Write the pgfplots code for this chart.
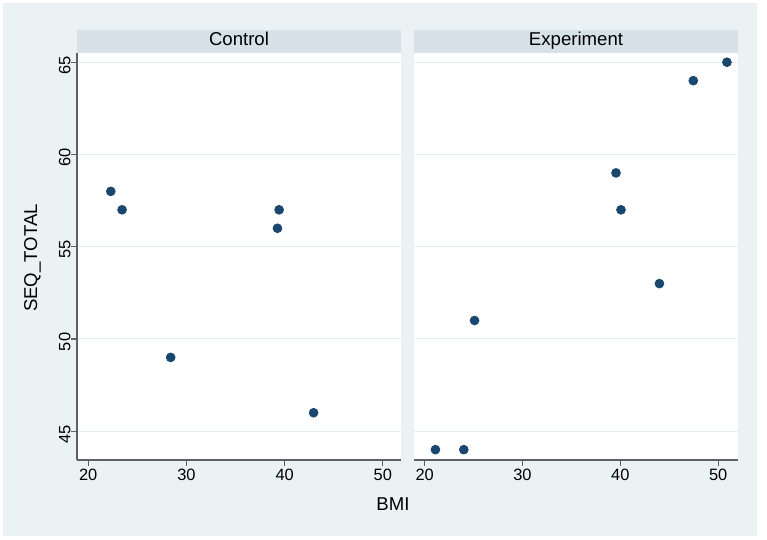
\documentclass[border=0pt]{standalone}
\usepackage{pgfplots}
\pgfplotsset{compat=1.18}
\usepackage{fontspec}
\setmainfont{Liberation Sans}
\definecolor{bgc}{RGB}{234,242,243}
\definecolor{hdr}{RGB}{214,226,232}
\definecolor{navy}{RGB}{26,71,111}
\definecolor{axc}{RGB}{95,95,95}
\definecolor{gridc}{RGB}{228,237,239}
\pgfplotsset{
  panel/.style={
    scale only axis, width=162pt, height=203.5pt, anchor=south west,
    ymin=43.44, ymax=65.50,
    xtick={20,30,40,50}, ytick={45,50,55,60,65},
    ymajorgrids, grid style={gridc, line width=0.5pt},
    tick align=outside, major tick length=3pt,
    tick style={axc, line width=0.6pt},
    axis line style={axc, line width=0.75pt, -},
    /pgf/number format/assume math mode=true,
    ticklabel style={font=\fontsize{8.2}{10}\selectfont},
    xticklabel style={inner sep=0pt, anchor=north, yshift=-1.5pt},
    yticklabel style={rotate=90, inner sep=0pt, anchor=south, xshift=-1.5pt},
    clip=false,
  },
  pts/.style={only marks, mark=*, mark size=2.2pt, mark options={fill=navy, draw=navy}},
}
\begin{document}
\begin{tikzpicture}
\fill[white] (0,0) rectangle (383.5pt,270pt);
\fill[bgc] (1.5pt,2pt) rectangle (378.25pt,268.5pt);
\fill[white] (38.5pt,40pt) rectangle (200.5pt,243.5pt);
\fill[white] (207pt,40pt) rectangle (369pt,243.5pt);
\fill[hdr] (38.5pt,243.5pt) rectangle (200.5pt,255pt);
\fill[hdr] (207pt,243.5pt) rectangle (369pt,255pt);

\begin{axis}[panel, at={(38.5pt,40pt)}, xmin=18.86, xmax=51.85,
  axis x line*=bottom, axis y line*=left]
\addplot[pts] coordinates {
(22.3,58) (23.45,57) (28.4,49) (39.44,57) (39.27,56) (42.95,46)
};
\end{axis}

\begin{axis}[panel, at={(207pt,40pt)}, xmin=18.91, xmax=52.03,
  axis x line*=bottom, axis y line*=left,
  y axis line style={draw=none}, ytick style={draw=none}, yticklabels={}]
\addplot[pts] coordinates {
(21.1,44) (24.0,44) (25.1,51) (39.56,59) (40.07,57) (44.0,53) (47.46,64) (50.9,65)
};
\end{axis}

\node[anchor=base, font=\fontsize{9.3}{11}\selectfont] at (119.5pt,247.2pt) {Control};
\node[anchor=base, font=\fontsize{9.3}{11}\selectfont] at (288pt,247.2pt) {Experiment};
\node[anchor=base, font=\fontsize{9.3}{11}\selectfont] at (196.5pt,14.5pt) {BMI};
\node[anchor=base, rotate=90, font=\fontsize{9.3}{11}\selectfont] at (18.6pt,141pt) {SEQ\_TOTAL};
\pgfresetboundingbox
\path (0,0) rectangle (383.5pt,270pt);
\end{tikzpicture}
\end{document}
